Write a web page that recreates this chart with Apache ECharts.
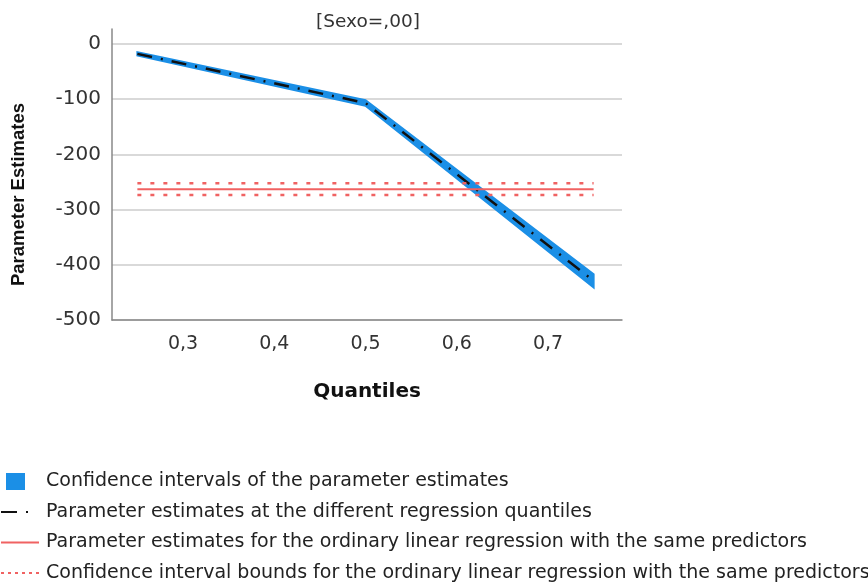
<!DOCTYPE html>
<html>
<head>
<meta charset="utf-8">
<script src="https://cdn.jsdelivr.net/npm/echarts@6/dist/echarts.min.js"></script>
<style>
  html, body { margin: 0; padding: 0; background: #fff; }
  #main { width: 868px; height: 587px; }
</style>
</head>
<body>
<div id="main"></div>
<script>
// 数据：分位数回归的参数估计
const quantiles = [0.25, 0.5, 0.75];
const estimates = [-18, -107, -429];
const ciLower = [-21, -112, -441];
const ciUpper = [-15, -102, -417];
const olsEstimate = -263;
const olsLower = -273.5;
const olsUpper = -252.5;
const xTicks = [0.3, 0.4, 0.5, 0.6, 0.7];
const yTicks = [-500, -400, -300, -200, -100, 0];

const legendNames = [
    'Confidence intervals of the parameter estimates',
    'Parameter estimates at the different regression quantiles',
    'Parameter estimates for the ordinary linear regression with the same predictors',
    'Confidence interval bounds for the ordinary linear regression with the same predictors'
];

const BLUE = '#1b8fe6';
const RED = '#f06262';
const WIDE = 'DejaVu Sans';

const xFirst = quantiles[0];
const xLast = quantiles[quantiles.length - 1];

// 置信区间带：用多边形画，坐标由 api.coord 换算
function renderBand(params, api) {
    const pts = [];
    quantiles.forEach(function (q, i) { pts.push(api.coord([q, ciUpper[i]])); });
    for (let i = quantiles.length - 1; i >= 0; i--) {
        pts.push(api.coord([quantiles[i], ciLower[i]]));
    }
    return {
        type: 'polygon',
        shape: { points: pts },
        style: { fill: BLUE, stroke: BLUE, lineWidth: 2 }
    };
}

const noSymbol = { opacity: 0 };

const option = {
    animation: false,
    title: {
        text: '[Sexo=,00]',
        left: 363,
        top: 8,
        textAlign: 'center',
        textStyle: { fontFamily: WIDE, fontSize: 18.5, fontWeight: 'normal', color: '#333' }
    },
    grid: { left: 112, right: 246, top: 29, bottom: 267 },
    xAxis: {
        type: 'value',
        min: 0.2222,
        max: 0.7811,
        name: 'Quantiles',
        nameLocation: 'middle',
        nameGap: 62,
        nameTextStyle: { fontFamily: WIDE, fontWeight: 'bold', fontSize: 20, color: '#111' },
        axisLine: { onZero: false, lineStyle: { color: '#888', width: 1.5 } },
        axisTick: { show: false, customValues: xTicks },
        splitLine: { show: false },
        axisLabel: {
            customValues: xTicks,
            margin: 15,
            fontFamily: WIDE,
            fontSize: 19,
            color: '#333',
            formatter: function (v) { return v.toFixed(1).replace('.', ','); }
        }
    },
    yAxis: {
        type: 'value',
        min: -500,
        max: 27,
        name: 'Parameter Estimates',
        nameLocation: 'middle',
        nameGap: 84,
        nameTextStyle: {
            fontFamily: 'Liberation Sans', fontWeight: 'bold', fontSize: 18.5, color: '#111',
            padding: [0, 40, 0, 0]
        },
        axisLine: { show: true, lineStyle: { color: '#888', width: 1.5 } },
        axisTick: { show: false, customValues: yTicks },
        splitLine: { show: true, lineStyle: { color: '#cdcdcd', width: 1.5 } },
        axisLabel: {
            customValues: yTicks,
            margin: 11,
            fontFamily: WIDE,
            fontSize: 20,
            color: '#333'
        }
    },
    legend: {
        orient: 'vertical',
        left: 0,
        top: 472,
        padding: 0,
        itemWidth: 38,
        itemHeight: 17,
        itemGap: 11.5,
        textStyle: { fontFamily: WIDE, fontSize: 19, color: '#222', padding: [0, 0, 0, 2] },
        data: [
            { name: legendNames[0], icon: 'path://M0,0M38,17M5,0h19v17h-19z', itemStyle: { color: BLUE } },
            { name: legendNames[1], itemStyle: noSymbol, lineStyle: { type: [16, 9, 2, 20], width: 2 } },
            { name: legendNames[2], itemStyle: noSymbol },
            { name: legendNames[3], itemStyle: noSymbol, lineStyle: { type: [3, 4], width: 2 } }
        ]
    },
    series: [
        {
            name: legendNames[0],
            type: 'custom',
            color: BLUE,
            renderItem: renderBand,
            data: [[xFirst, ciLower[0]]]
        },
        {
            name: legendNames[1],
            type: 'line',
            symbol: 'none',
            color: '#111',
            lineStyle: { color: '#111', width: 2.5, type: [15, 9, 2, 9] },
            data: quantiles.map((q, i) => [q, estimates[i]])
        },
        {
            name: legendNames[2],
            type: 'line',
            symbol: 'none',
            color: RED,
            lineStyle: { color: RED, width: 2 },
            data: [[xFirst, olsEstimate], [xLast, olsEstimate]]
        },
        {
            name: legendNames[3],
            type: 'line',
            symbol: 'none',
            color: RED,
            lineStyle: { color: RED, width: 2.5, type: [4, 9] },
            data: [[xFirst, olsUpper], [xLast, olsUpper]]
        },
        {
            name: legendNames[3],
            type: 'line',
            symbol: 'none',
            color: RED,
            lineStyle: { color: RED, width: 2.5, type: [4, 9] },
            data: [[xFirst, olsLower], [xLast, olsLower]]
        }
    ]
};

const myChart = echarts.init(document.getElementById('main'));
myChart.setOption(option);
</script>
</body>
</html>
